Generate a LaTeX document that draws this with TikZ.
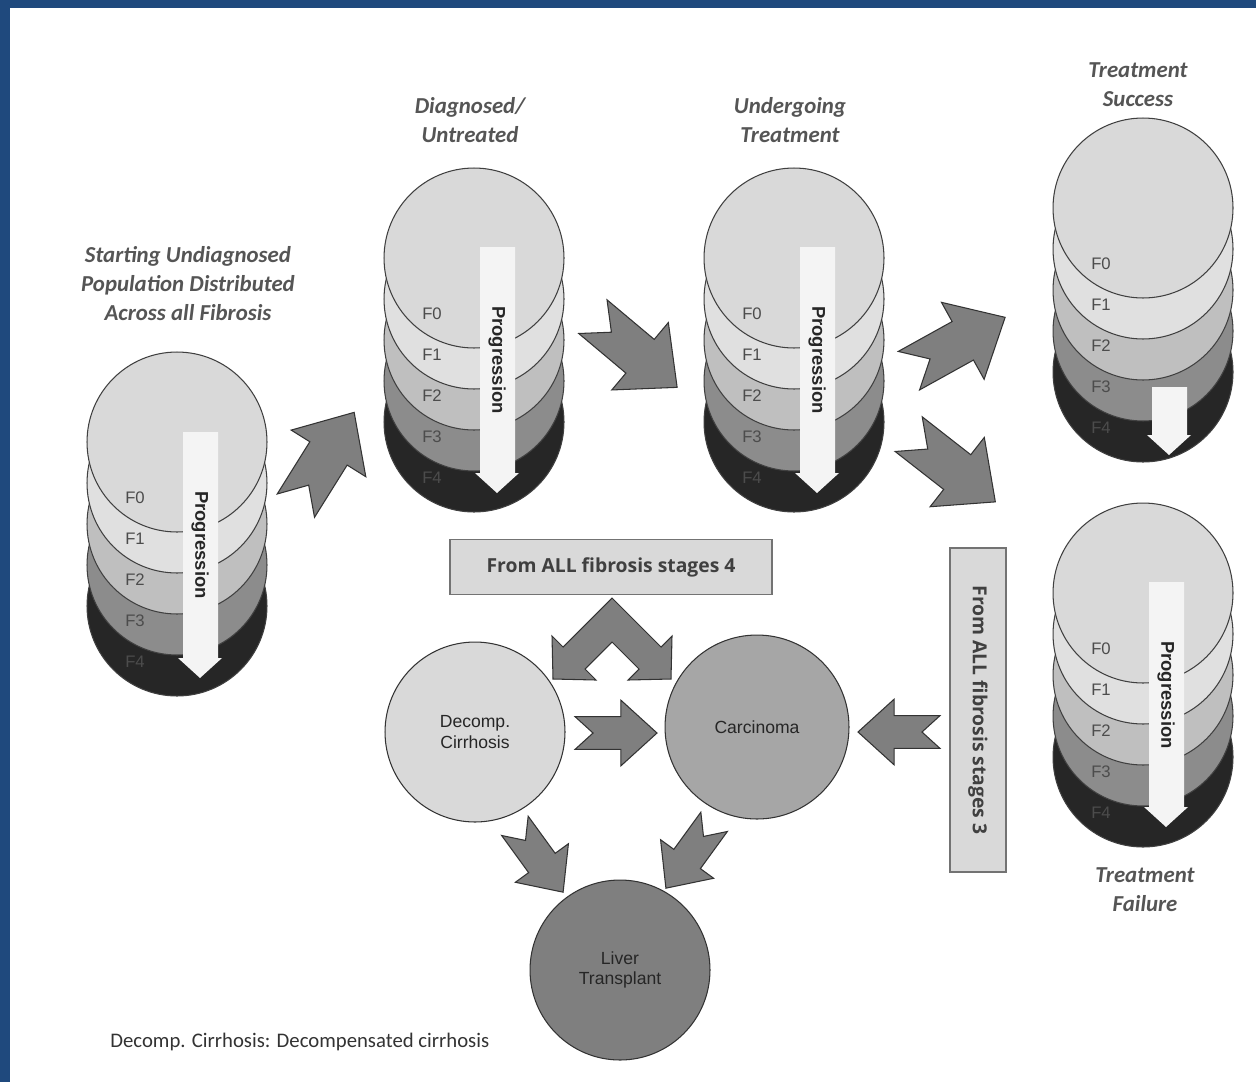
\documentclass[tikz,border=0pt]{standalone}
\usepackage{fontspec}
\setmainfont{Carlito}
\newfontfamily\arialf{Liberation Sans}
\newfontfamily\boxf{Open Sans}

\definecolor{frameblue}{HTML}{1F497D}
\definecolor{fZero}{HTML}{D9D9D9}
\definecolor{fOne}{HTML}{E0E0E0}
\definecolor{fTwo}{HTML}{BFBFBF}
\definecolor{fThree}{HTML}{8C8C8C}
\definecolor{fFour}{HTML}{262626}
\definecolor{progwhite}{HTML}{F4F4F4}
\definecolor{arrowgray}{HTML}{7F7F7F}
\definecolor{titlegray}{HTML}{555555}

\tikzset{
  fdisc/.style={circle, draw=black!75, line width=0.6pt, inner sep=0pt, minimum size=3.6cm},
  flabel/.style={font=\arialf\fontsize{9.5}{10}\selectfont, text=black!70, inner sep=0pt},
  progtext/.style={font=\arialf\bfseries\fontsize{10.5}{12}\selectfont, text=black!85, inner sep=0pt},
  heading/.style={font=\bfseries\itshape\fontsize{13}{16.5}\selectfont, text=titlegray, align=center, inner sep=0pt},
  stagebox/.style={draw=black!55, fill=fZero, line width=0.8pt, inner sep=0pt,
    font=\boxf\bfseries\fontsize{11}{13}\selectfont, text=black!75},
  stateball/.style={circle, draw=black!80, line width=0.6pt, inner sep=0pt,
    font=\arialf\fontsize{10}{11.5}\selectfont, text=black!85, align=center},
  barrow/.style={fill=arrowgray, draw=black!80, line width=0.6pt, line join=miter},
  blockarrow/.pic={
    \draw[barrow] (-50,20) -- (6,20) -- (6,40) -- (50,0) -- (6,-40) -- (6,-20)
      -- (-50,-20) -- (-28,0) -- cycle;
  }
}

% five fibrosis discs, F4 at the bottom
\newcommand\fstack[3]{%
  \foreach \i/\c in {4/fFour,3/fThree,2/fTwo,1/fOne,0/fZero}
    \node[fdisc, fill=\c] (#1-\i) at (#2, #3+41*\i) {};
  \foreach \i in {0,...,4}
    \node[flabel] (#1-l\i) at (#2-42, #3+41*\i+56) {F\i};
}
% progression arrow: cx, cy, top, tip
\newcommand\fprog[4]{%
  \fill[progwhite] (#1+6,#2+#3) -- (#1+41,#2+#3) -- (#1+41,#2+#4-20) -- (#1+45,#2+#4-20)
    -- (#1+23,#2+#4) -- (#1+1,#2+#4-20) -- (#1+6,#2+#4-20) -- cycle;
}

\begin{document}
\begin{tikzpicture}[x=0.02cm, y=-0.02cm]
  \useasboundingbox (0,0) rectangle (1256,1082);
  \fill[frameblue] (0,0) rectangle (1256,1082);
  \fill[white] (10,8) rectangle (1256,1082);

  % stacks
  \fstack{start}{177}{442}
  \fprog{177}{442}{-10}{236}
  \node[progtext, rotate=-90] (start-prog) at (200,545) {Progression};
  \node[heading] (start-t) at (188,284) {Starting Undiagnosed\\Population Distributed\\Across all Fibrosis};

  \fstack{diag}{474}{258}
  \fprog{474}{258}{-11}{235}
  \node[progtext, rotate=-90] (diag-prog) at (497,360) {Progression};
  \node[heading] (diag-t) at (470,120) {Diagnosed/\\Untreated};

  \fstack{treat}{794}{258}
  \fprog{794}{258}{-11}{235}
  \node[progtext, rotate=-90] (treat-prog) at (817,360) {Progression};
  \node[heading] (treat-t) at (790,120) {Undergoing\\Treatment};

  \fstack{succ}{1143}{208}
  \fprog{1146}{208}{179}{247}
  \node[heading] (succ-t) at (1138,85) {Treatment\\Success};

  \fstack{fail}{1143}{593}
  \fprog{1143}{593}{-11}{234}
  \node[progtext, rotate=-90] (fail-prog) at (1166,695) {Progression};
  \node[heading] (fail-t) at (1145,890) {Treatment\\Failure};

  % outcomes
  \node[stagebox, minimum width=6.44cm, minimum height=1.1cm] (all4) at (611,567) {From ALL fibrosis stages 4};
  \node[stagebox, rotate=-90, minimum width=6.48cm, minimum height=1.12cm] (all3) at (978,710) {From ALL fibrosis stages 3};
  \node[stateball, fill=fZero, minimum size=3.6cm] (dc) at (475,732) {Decomp.\\Cirrhosis};
  \node[stateball, fill=black!35, minimum size=3.68cm] (ca) at (757,727) {Carcinoma};
  \node[stateball, fill=arrowgray, minimum size=3.6cm] (lt) at (620,970) {Liver\\Transplant};

  % block arrows
  \pic[rotate=58, scale=1.1] at (325,459) {blockarrow};
  \pic[rotate=-40, scale=1.1] at (635,352) {blockarrow};
  \pic[rotate=29, scale=1.1] at (957,344) {blockarrow};
  \pic[rotate=-38, scale=1.1] at (952,468) {blockarrow};
  \pic[scale=0.82] at (616,733) {blockarrow};
  \pic[rotate=180, scale=0.82] at (899,732) {blockarrow};
  \pic[rotate=-54, scale=0.82] at (539,859) {blockarrow};
  \pic[rotate=-126, scale=0.82] at (690,855) {blockarrow};
  \draw[barrow] (612,598) -- (661,647) -- (672,636) -- (671,679) -- (628,680) -- (639,669)
    -- (612,642) -- (585,669) -- (596,680) -- (553,679) -- (552,636) -- (563,647) -- cycle;

  \node[anchor=west, inner sep=0pt, font=\fontsize{11.8}{13}\selectfont, text=black!80] (note) at (110,1042)
    {Decomp. Cirrhosis: Decompensated cirrhosis};
\end{tikzpicture}
\end{document}
